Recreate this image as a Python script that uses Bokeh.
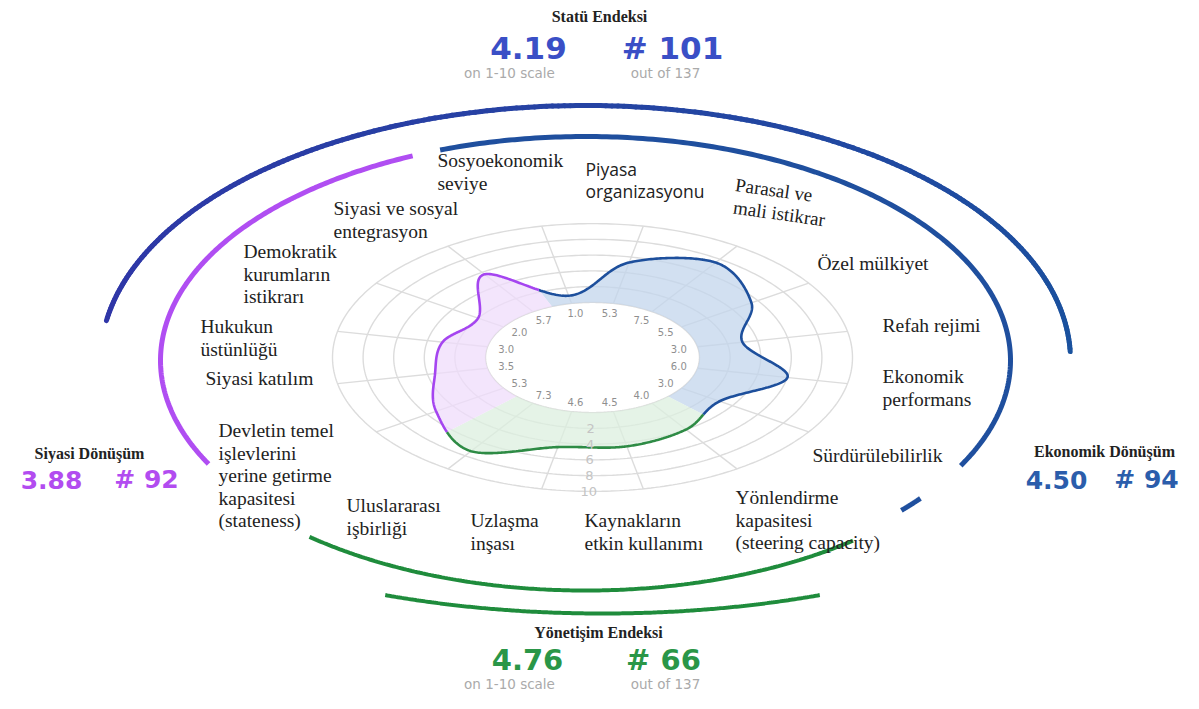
import numpy as np
from bokeh.plotting import figure
from bokeh.models import Range1d
from bokeh.embed import file_html
from bokeh.resources import INLINE
from bokeh.core.properties import value

# ---------------- data ----------------
categories = [
    "Sosyoekonomik\nseviye", "Piyasa\norganizasyonu", "Parasal ve\nmali istikrar",
    "Özel mülkiyet", "Refah rejimi", "Ekonomik\nperformans", "Sürdürülebilirlik",
    "Yönlendirme\nkapasitesi\n(steering capacity)", "Kaynakların\netkin kullanımı",
    "Uzlaşma\ninşası", "Uluslararası\nişbirliği",
    "Devletin temel\nişlevlerini\nyerine getirme\nkapasitesi\n(stateness)",
    "Siyasi katılım", "Hukukun\nüstünlüğü", "Demokratik\nkurumların\nistikrarı",
    "Siyasi ve sosyal\nentegrasyon",
]
scores = [1.0, 5.3, 7.5, 5.5, 3.0, 6.0, 3.0, 4.0, 4.5, 4.6, 7.3, 5.3, 3.5, 3.0, 2.0, 5.7]
groups = ["eco"] * 7 + ["gov"] * 4 + ["pol"] * 5
ring_ticks = [2, 4, 6, 8, 10]

index_names = ["Statü Endeksi", "Siyasi Dönüşüm", "Ekonomik Dönüşüm", "Yönetişim Endeksi"]
index_scores = [4.19, 3.88, 4.50, 4.76]
index_ranks = [101, 92, 94, 66]
rank_total = 137

# ---------------- layout / style ----------------
W, H = 1183, 693
CX, CY = 592.0, 357.0
R0, DR, KY = 107.0, 15.3, 0.515
N = len(scores)
STEP = 360.0 / N
sector_angles = [-STEP / 2 + STEP * k for k in range(N)]

C_ECO_LINE, C_ECO_FILL = "#1d4f9c", "#c3d5ec"
C_GOV_LINE, C_GOV_FILL = "#2e8b45", "#dcefdf"
C_POL_LINE, C_POL_FILL = "#a545f0", "#efdcfb"
C_GRID = "#dcdcdc"
SERIF = value("Liberation Serif")
SANS = value("DejaVu Sans")

def to_xy(v, deg):
    r = R0 + DR * np.asarray(v, dtype=float)
    t = np.radians(deg)
    return CX + r * np.sin(t), CY - r * KY * np.cos(t)

def arc(cx, cy, rx, ry, th0, th1, n=200):
    t = np.radians(np.linspace(th0, th1, n))
    return cx + rx * np.sin(t), cy - ry * np.cos(t)

p = figure(width=W, height=H, x_range=Range1d(0, W), y_range=Range1d(H, 0),
           output_backend="svg", toolbar_location=None, min_border=0)
p.axis.visible = False
p.xgrid.visible = False
p.ygrid.visible = False
p.outline_line_color = None
p.background_fill_color = "white"
p.border_fill_color = "white"

# ---------------- grid ----------------
full = np.linspace(0, 360, 361)
rx_l, ry_l = [], []
for v in [0] + ring_ticks:
    x, y = to_xy(np.full_like(full, v), full)
    rx_l.append(list(x)); ry_l.append(list(y))
p.multi_line(rx_l, ry_l, line_color=C_GRID, line_width=1.4)
sx_l, sy_l = [], []
for a in sector_angles:
    x, y = to_xy([0, ring_ticks[-1]], [a, a])
    sx_l.append(list(x)); sy_l.append(list(y))
p.multi_line(sx_l, sy_l, line_color=C_GRID, line_width=1.4)

# ---------------- blob (closed Catmull-Rom through the scores) ----------------
rad = np.radians(sector_angles)
rr = R0 + DR * np.array(scores)
P = np.column_stack([rr * np.sin(rad), rr * np.cos(rad)])
segs = []
tt = np.linspace(0, 1, 50, endpoint=False)[:, None]
for i in [N - 1] + list(range(N - 1)):
    p0, p1, p2, p3 = P[(i - 1) % N], P[i], P[(i + 1) % N], P[(i + 2) % N]
    segs.append(0.5 * ((2 * p1) + (-p0 + p2) * tt + (2 * p0 - 5 * p1 + 4 * p2 - p3) * tt ** 2
                       + (-p0 + 3 * p1 - 3 * p2 + p3) * tt ** 3))
curve = np.vstack(segs)
ang = np.degrees(np.arctan2(curve[:, 0], curve[:, 1]))
b0 = -STEP
s = int(np.argmax((ang >= b0) & (ang < b0 + 30)))
curve = np.roll(curve, -s, axis=0)
ang = (np.degrees(np.arctan2(curve[:, 0], curve[:, 1])) - b0) % 360 + b0
b1 = b0 + STEP * 7
b2 = b1 + STEP * 4
i1 = int(np.argmax(ang >= b1))
i2 = int(np.argmax(ang >= b2))
curve_c = np.vstack([curve, curve[:1]])
ang_c = np.concatenate([ang, [ang[0] + 360]])
parts = [(0, i1 + 1, C_ECO_LINE, C_ECO_FILL), (i1, i2 + 1, C_GOV_LINE, C_GOV_FILL),
         (i2, len(curve_c), C_POL_LINE, C_POL_FILL)]
for lo, hi, lc, fc in parts:
    seg = curve_c[lo:hi]
    a_seg = ang_c[lo:hi]
    bx = CX + seg[:, 0]
    by = CY - seg[:, 1] * KY
    ha = np.linspace(a_seg[-1], a_seg[0], 100)
    hx, hy = to_xy(np.zeros_like(ha), ha)
    p.patch(np.concatenate([bx, hx]), np.concatenate([by, hy]), fill_color=fc,
            fill_alpha=0.75, line_color=None)
for lo, hi, lc, fc in parts:
    seg = curve_c[lo:hi]
    p.line(CX + seg[:, 0], CY - seg[:, 1] * KY, line_color=lc, line_width=2.6)

# score labels inside the hole
hx, hy = [], []
for a in sector_angles:
    t = np.radians(a)
    hx.append(CX + 88 * np.sin(t)); hy.append(CY - 88 * KY * np.cos(t))
p.text(hx, hy, text=[f"{v:.1f}" for v in scores], text_font=SANS, text_font_size="10px",
       text_color="#8f8f8f", text_align="center", text_baseline="middle")

# ring tick labels
tx, ty = to_xy(ring_ticks, [180.8] * len(ring_ticks))
p.text(list(tx), list(ty), text=[str(v) for v in ring_ticks], text_font=SANS,
       text_font_size="13px", text_color="#c4c4c4", text_align="center", text_baseline="middle")

# ---------------- outer arcs ----------------
ax, ay = arc(585, 360, 485, 255, -81, 88, 240)
cols = []
c0 = np.array([0x30, 0x36, 0xa8]); c1 = np.array([0x1a, 0x52, 0x9e])
mx, my = [], []
for j in range(len(ax) - 1):
    f = j / (len(ax) - 2)
    c = (c0 * (1 - f) + c1 * f).astype(int)
    cols.append("#%02x%02x%02x" % tuple(c))
    mx.append([ax[j], ax[j + 1]]); my.append([ay[j], ay[j + 1]])
p.multi_line(mx, my, line_color=cols, line_width=5, line_cap="round")

x, y = arc(585, 360, 425, 224, -24, -117.5)
p.line(x, y, line_color="#b04ef2", line_width=5)
x, y = arc(585, 360, 425, 224, -20, 118)
p.line(x, y, line_color="#1f4f9e", line_width=5)
x, y = arc(585, 360, 425, 224, 128, 132, 20)
p.line(x, y, line_color="#1f4f9e", line_width=5)
x, y = arc(585, 366, 425, 224, 141, 220.5)
p.line(x, y, line_color="#1f8c3c", line_width=4)
x, y = arc(602, 360, 580, 253, 158, 202)
p.line(x, y, line_color="#1f8c3c", line_width=4)

# ---------------- category labels ----------------
lab_pos = [(437, 160), (585, 168), (735, 184), (817, 263), (882, 325), (882, 376),
           (812, 455), (735, 497), (584, 520), (470, 520), (346, 505), (218, 430),
           (205, 378), (200, 326), (243, 251), (333, 208)]
LH = 22.5
for k, (txt, (lx, ly)) in enumerate(zip(categories, lab_pos)):
    lines = txt.split("\n")
    if k == 1:
        p.text([lx] * len(lines), [ly + LH * i for i in range(len(lines))], text=lines,
               text_font=value("Open Sans"), text_font_size="17.5px", text_color="#222222",
               text_align="left", text_baseline="middle")
    elif k == 2:
        p.text([lx, lx - 2], [ly, ly + LH], text=lines, angle=-0.14,
               text_font=SERIF, text_font_size="19px", text_color="#222222",
               text_align="left", text_baseline="middle")
    else:
        p.text([lx] * len(lines), [ly + LH * i for i in range(len(lines))], text=lines,
               text_font=SERIF, text_font_size="19.5px", text_color="#222222",
               text_align="left", text_baseline="middle")

# ---------------- index headers ----------------
head_pos = [(599, 16), (89, 453), (1104, 451), (598, 632)]
num_pos = [((528, 47), (672, 47)), ((51, 479), (146, 479)), ((1056, 479), (1146, 479)),
           ((527, 659), (663, 659))]
num_cols = ["#3a4fc6", "#b24cf0", "#2b5dab", "#2a9647"]
p.text([q[0] for q in head_pos], [q[1] for q in head_pos], text=index_names,
       text_font=SERIF, text_font_size="16px", text_font_style="bold", text_color="#222222",
       text_align="center", text_baseline="middle")
for (a, b), sc, rk, col, fs in zip(num_pos, index_scores, index_ranks, num_cols,
                                   ["31px", "25px", "25px", "29px"]):
    p.text([a[0], b[0]], [a[1], b[1]], text=[f"{sc:.2f}", f"# {rk}"], text_font=SANS,
           text_font_size=fs, text_font_style="bold", text_color=col,
           text_align="center", text_baseline="middle")
for yy in [72, 683]:
    p.text([509, 665], [yy, yy], text=["on 1-10 scale", f"out of {rank_total}"],
           text_font=SANS, text_font_size="13.5px", text_color="#aaaaaa",
           text_align="center", text_baseline="middle")

open("out.html", "w").write(file_html(p, INLINE))
